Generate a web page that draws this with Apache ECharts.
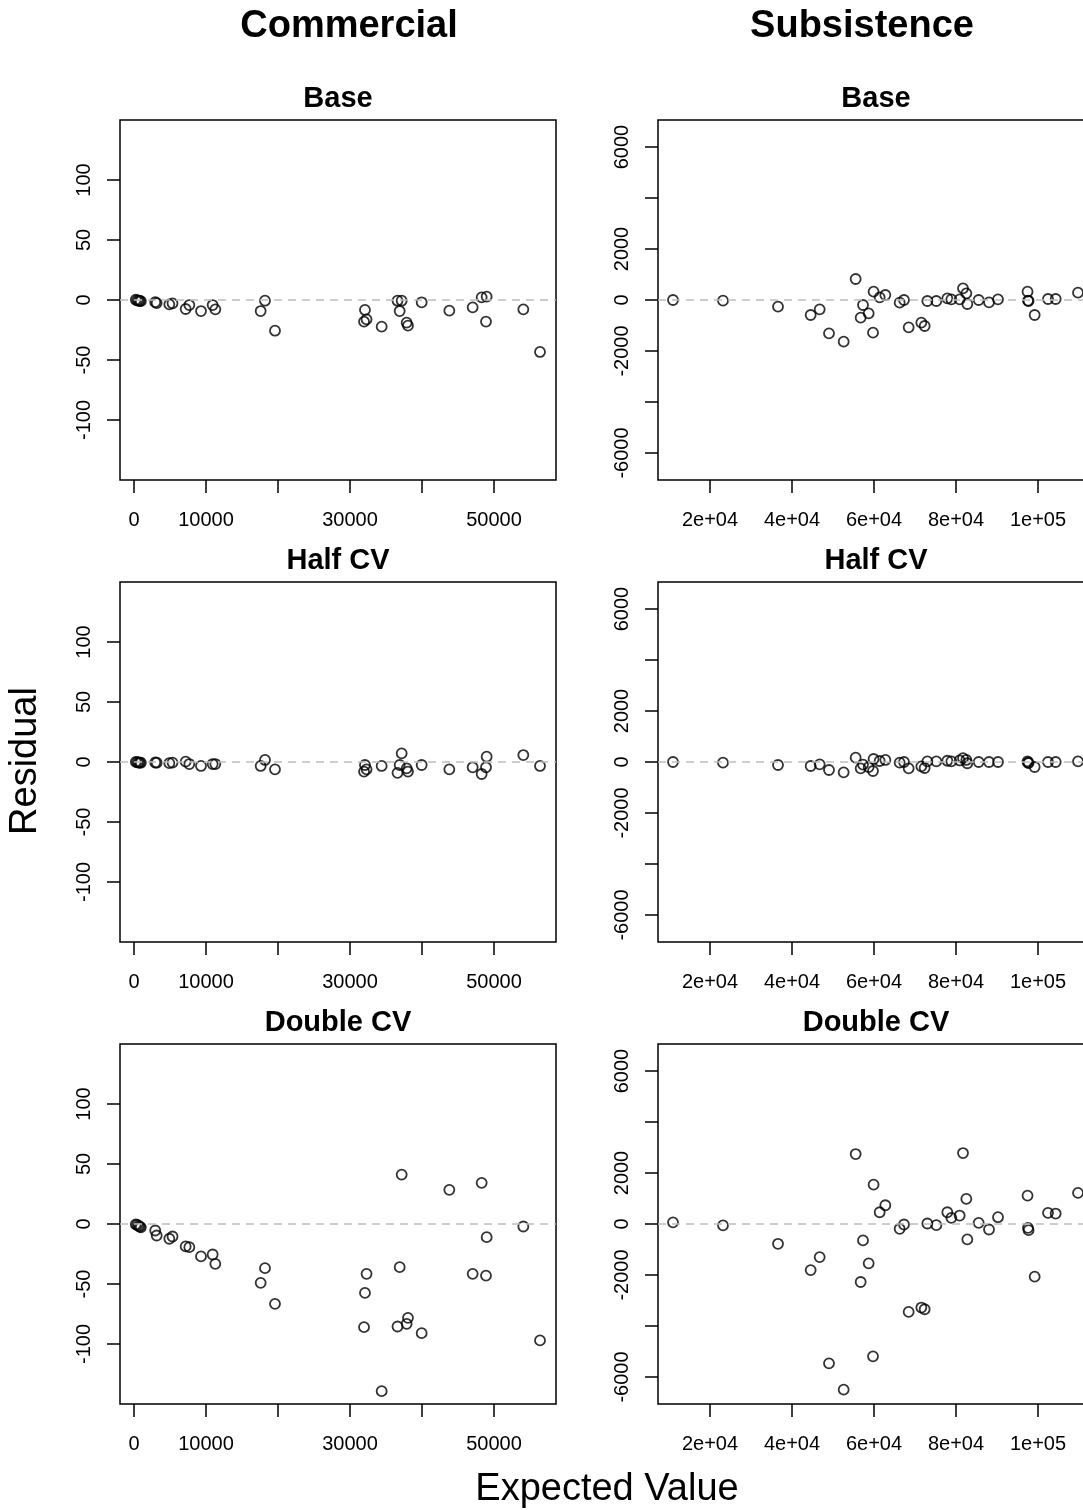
<!DOCTYPE html>
<html>
<head>
<meta charset="utf-8">
<title>Residual vs Expected Value</title>
<script src="https://cdn.jsdelivr.net/npm/echarts@6/dist/echarts.min.js"></script>
<style>
  html, body { margin: 0; padding: 0; background: #fff; overflow: hidden; }
  /* wider than the window: the right column runs off the edge, as in the source figure */
  #chart { width: 1110px; height: 1510px; }
</style>
</head>
<body>
<div id="chart"></div>
<script>
// expected values, shared by the three scenarios of each fleet
const commercialX = [250, 450, 650, 800, 950, 2950, 3150, 4907, 5350, 7176, 7685, 9306, 10926, 11296, 17593, 18194, 19583,
  31950, 32080, 32300, 34398, 36600, 36900, 37176, 37870, 38050, 39954, 43796, 47037, 48287, 48889, 48981, 54074, 56389]
const commercialBase = [0.2, -0.3, -0.6, -0.8, -1.0, -1.8, -2.6, -3.6, -2.8, -7.5, -4.2, -9.2, -4.2, -7.8, -9.2, -0.6, -25.6,
  -18, -8.3, -16.1, -22.2, -0.6, -9.2, -0.6, -18.9, -21.4, -1.9, -8.9, -6.1, 2.2, -18, 2.8, -7.8, -43.3]
const commercialHalf = [0.1, -0.2, -0.4, -0.5, -0.6, -0.4, -0.6, -1, -0.5, 0.3, -1.7, -3.3, -1.7, -1.7, -3.3, 1.7, -6.1,
  -8, -2.5, -6.1, -3.3, -9, -2.5, 7.2, -5.3, -8, -2.5, -6.1, -4.4, -10, -4.4, 4.4, 5.8, -3.3]
const commercialDouble = [-0.3, -0.8, -1.5, -2.2, -2.8, -5.4, -9.6, -12.3, -10.4, -18.7, -19.3, -27, -25.4, -33.2, -49, -36.8, -66.5,
  -86, -57.4, -41.5, -139.3, -85.4, -36, 41.2, -83.2, -78.2, -91, 28.5, -41.5, 34.3, -43, -11, -2.1, -97]

const subsistenceX = [10976, 23171, 36585, 44553, 46748, 49024, 52602, 55528, 57317, 56748, 58699, 59756, 59900, 61382, 62764,
  66260, 67317, 68455, 71545, 72358, 73008, 75203, 77886, 78862, 80894, 81707, 82520, 82764, 85528, 88049, 90244,
  97450, 97561, 97700, 99187, 102439, 104309, 109756]
const subsistenceBase = [0, -26, -261, -588, -366, -1307, -1634, 823, -196, -693, -523, -1281, 327, 105, 196,
  -104, 0, -1072, -889, -1020, -39, -39, 65, 26, 26, 457, 261, -157, 0, -91, 26,
  327, -26, -40, -588, 39, 39, 288]
const subsistenceHalf = [0, -26, -118, -157, -92, -314, -405, 170, -100, -250, -200, -353, 117, 40, 80,
  -26, 0, -248, -170, -235, 26, 26, 50, 26, 60, 150, 80, -50, 0, 0, 0,
  26, -26, -40, -196, 0, 0, 26]
const subsistenceDouble = [65, -52, -776, -1806, -1298, -5465, -6497, 2744, -645, -2275, -1544, -5190, 1544, 461, 735,
  -188, -20, -3448, -3276, -3343, 20, -47, 461, 242, 332, 2783, 985, -606, 47, -215, 266,
  1114, -149, -242, -2064, 437, 410, 1220]

// tick positions and the labels R kept after dropping overlapping ones
const commercialXTicks = [0, 10000, 20000, 30000, 40000, 50000]
const commercialXLabels = [0, 10000, 30000, 50000]
const commercialYTicks = [-100, -50, 0, 50, 100]
const subsistenceXTicks = [20000, 40000, 60000, 80000, 100000]
const subsistenceXLabels = ['2e+04', '4e+04', '6e+04', '8e+04', '1e+05']
const subsistenceYTicks = [-6000, -4000, -2000, 0, 2000, 4000, 6000]
const subsistenceYLabels = [-6000, -2000, 0, 2000, 6000]

const columnTitles = ['Commercial', 'Subsistence']
const rowTitles = ['Base', 'Half CV', 'Double CV']

const FONT = "'Liberation Sans', Arial, Helvetica, sans-serif"
const gridTops = [120, 582, 1044]
const gridLefts = [120, 658]
const gridW = 436
const gridH = 360
const columnTitleX = [349, 862]

const columns = [
  {
    x: commercialX,
    ys: [commercialBase, commercialHalf, commercialDouble],
    xMin: -1944, xMax: 58611, yMin: -150, yMax: 150,
    xTicks: commercialXTicks,
    xLabels: commercialXLabels,
    xFormat: v => String(v),
    yTicks: commercialYTicks,
    yLabels: commercialYTicks
  },
  {
    x: subsistenceX,
    ys: [subsistenceBase, subsistenceHalf, subsistenceDouble],
    xMin: 7317, xMax: 113658, yMin: -7059, yMax: 7059,
    xTicks: subsistenceXTicks,
    xLabels: subsistenceXTicks,
    xFormat: v => subsistenceXLabels[subsistenceXTicks.indexOf(v)],
    yTicks: subsistenceYTicks,
    yLabels: subsistenceYLabels
  }
]

const grid = []
const xAxis = []
const yAxis = []
const series = []
const graphic = []

columns.forEach((col, c) => {
  graphic.push({
    type: 'text', x: columnTitleX[c], y: 27,
    style: { text: columnTitles[c], font: 'bold 38px ' + FONT, fill: '#000', textAlign: 'center', textVerticalAlign: 'middle' }
  })
  col.ys.forEach((ys, r) => {
    const idx = grid.length
    grid.push({
      left: gridLefts[c], top: gridTops[r], width: gridW, height: gridH,
      show: true, borderColor: '#000', borderWidth: 1.5, backgroundColor: 'transparent'
    })
    xAxis.push({
      gridIndex: idx, type: 'value', min: col.xMin, max: col.xMax, position: 'bottom',
      axisLine: { show: false, onZero: false },
      splitLine: { show: false },
      axisTick: { show: true, inside: false, length: 13, customValues: col.xTicks, lineStyle: { color: '#000', width: 1.5 } },
      axisLabel: {
        customValues: col.xLabels, formatter: col.xFormat, margin: 30,
        color: '#000', fontSize: 20, fontFamily: FONT
      }
    })
    yAxis.push({
      gridIndex: idx, type: 'value', min: col.yMin, max: col.yMax, position: 'left',
      axisLine: { show: false, onZero: false },
      splitLine: { show: false },
      axisTick: { show: true, inside: false, length: 13, customValues: col.yTicks, lineStyle: { color: '#000', width: 1.5 } },
      axisLabel: {
        customValues: col.yLabels, formatter: v => String(v), rotate: 90, margin: 26,
        color: '#000', fontSize: 20, fontFamily: FONT
      }
    })
    series.push({
      type: 'scatter',
      xAxisIndex: idx, yAxisIndex: idx,
      symbol: 'circle', symbolSize: 10,
      itemStyle: { color: 'transparent', borderColor: '#000', borderWidth: 1.8 },
      data: col.x.map((v, i) => [v, ys[i]]),
      markLine: {
        silent: true, symbol: ['none', 'none'], label: { show: false },
        lineStyle: { color: '#bdbdbd', type: [8, 6], width: 1.5 },
        data: [{ yAxis: 0 }]
      }
    })
    graphic.push({
      type: 'text', x: gridLefts[c] + gridW / 2, y: gridTops[r] - 21,
      style: { text: rowTitles[r], font: 'bold 29px ' + FONT, fill: '#000', textAlign: 'center', textVerticalAlign: 'middle' }
    })
  })
})

graphic.push({
  type: 'text', x: 26, y: 761, rotation: Math.PI / 2,
  style: { text: 'Residual', font: '38px ' + FONT, fill: '#000', textAlign: 'center', textVerticalAlign: 'middle' }
})
graphic.push({
  type: 'text', x: 607, y: 1490,
  style: { text: 'Expected Value', font: '38px ' + FONT, fill: '#000', textAlign: 'center', textVerticalAlign: 'middle' }
})

const chart = echarts.init(document.getElementById('chart'))
chart.setOption({
  animation: false,
  backgroundColor: '#fff',
  grid,
  xAxis,
  yAxis,
  series,
  graphic
})
</script>
</body>
</html>
